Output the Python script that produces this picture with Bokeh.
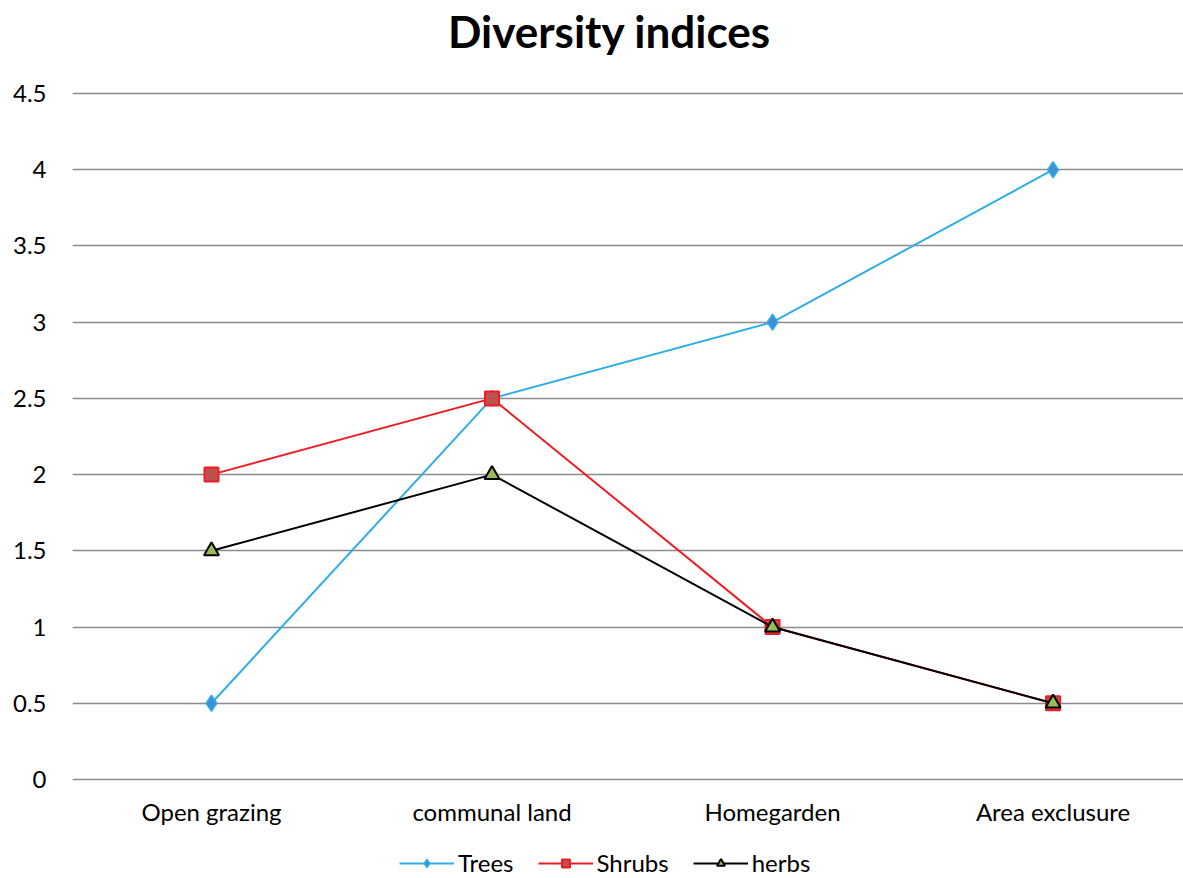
from bokeh.plotting import figure
from bokeh.models import FixedTicker, Legend, LegendItem, Range1d, Label
from bokeh.embed import file_html
from bokeh.resources import INLINE

categories = ["Open grazing", "communal land", "Homegarden", "Area exclusure"]
trees = [0.5, 2.5, 3, 4]
shrubs = [2, 2.5, 1, 0.5]
herbs = [1.5, 2, 1, 0.5]
y_ticks = [0, 0.5, 1, 1.5, 2, 2.5, 3, 3.5, 4, 4.5]
title_text = "Diversity indices"

FONT = "Lato"
xs = list(range(len(categories)))

# frame covers the whole page height; value 0 sits at 779px, 4.5 at 93px
p = figure(frame_width=1111, frame_height=878, output_backend="svg", toolbar_location=None,
           x_range=Range1d(-0.4955, 3.465), y_range=Range1d(-0.6494, 5.1101),
           min_border_left=72, min_border_right=0, min_border_top=0, min_border_bottom=0)
p.outline_line_color = None
p.background_fill_color = "white"
p.border_fill_color = "white"

p.add_layout(Label(x=1.419, y=4.907, text=title_text, text_font=FONT,
                   text_font_size="44px", text_font_style="bold", text_color="black",
                   text_align="center", text_baseline="middle"))

p.xaxis.fixed_location = 0
p.xaxis.ticker = FixedTicker(ticks=xs)
p.xaxis.major_label_overrides = {i: c for i, c in enumerate(categories)}
p.xaxis.axis_line_color = None
p.xaxis.major_tick_line_color = None
p.xaxis.minor_tick_line_color = None
p.xaxis.major_tick_out = 0
p.xaxis.major_tick_in = 0
p.xaxis.minor_tick_out = 0
p.xaxis.major_label_text_font = FONT
p.xaxis.major_label_text_font_size = "24px"
p.xaxis.major_label_text_color = "black"
p.xaxis.major_label_standoff = 17

p.yaxis.ticker = FixedTicker(ticks=y_ticks)
p.yaxis.major_label_overrides = {t: ("%g" % t) for t in y_ticks}
p.yaxis.axis_line_color = None
p.yaxis.major_tick_line_color = None
p.yaxis.minor_tick_line_color = None
p.yaxis.major_label_text_font = FONT
p.yaxis.major_label_text_font_size = "24px"
p.yaxis.major_label_text_color = "black"
p.yaxis.major_label_standoff = 20

p.xgrid.grid_line_color = None
p.ygrid.grid_line_color = "#8c8c8c"
p.ygrid.grid_line_width = 1.5

l1 = p.line(xs, trees, line_color="#2eaee6", line_width=2)
s1 = p.scatter(xs, trees, marker="diamond", size=16, fill_color="#3d8fd6", line_color="#2eaee6", line_width=1.5)
l2 = p.line(xs, shrubs, line_color="#ee1c25", line_width=2)
s2 = p.scatter(xs, shrubs, marker="square", size=14, fill_color="#c0504d", line_color="#ee1c25", line_width=2)
l3 = p.line(xs, herbs, line_color="black", line_width=2)
s3 = p.scatter(xs, herbs, marker="triangle", size=15, fill_color="#9bbb59", line_color="black", line_width=2)

legend = Legend(items=[LegendItem(label="Trees", renderers=[l1, s1]),
                       LegendItem(label="Shrubs", renderers=[l2, s2]),
                       LegendItem(label="herbs", renderers=[l3, s3])],
                orientation="horizontal", location=(327, 1),
                label_text_font=FONT, label_text_font_size="24px", label_text_color="black",
                glyph_width=55, label_standoff=4, spacing=24,
                border_line_color=None, background_fill_alpha=0,
                margin=0, padding=4)
p.add_layout(legend, "center")

html = file_html(p, INLINE)
html = html.replace("<head>", "<head><style>html,body{overflow:hidden;margin:0;}</style>", 1)
open("out.html", "w").write(html)
